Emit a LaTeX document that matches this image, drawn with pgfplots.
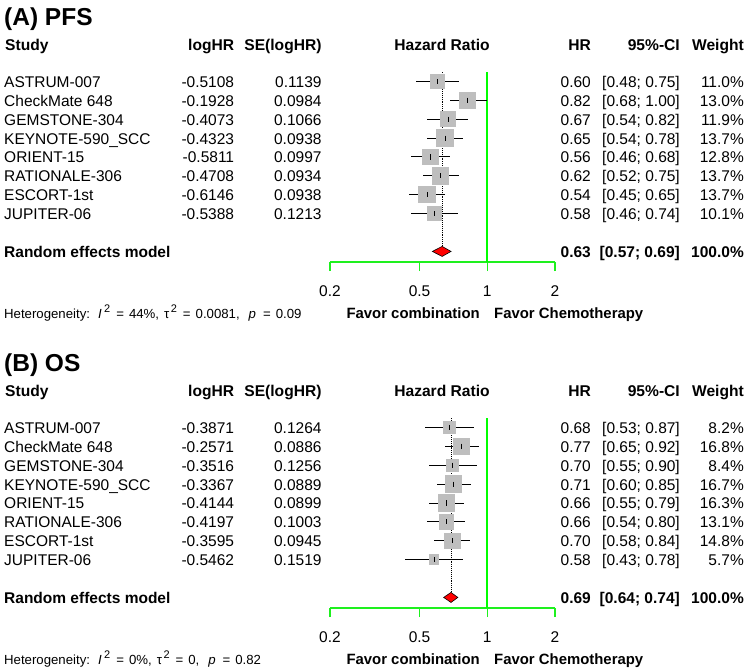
\documentclass[border=0pt]{standalone}
\usepackage{pgfplots}
\pgfplotsset{compat=1.18}
\usepackage{pgfplotstable}
\usepackage{fontspec}
\setmainfont{Liberation Sans}

\definecolor{sqgray}{RGB}{190,190,190}
\definecolor{lgreen}{RGB}{30,240,30}
\definecolor{vgreen}{RGB}{0,255,0}

\newcommand\fbody{\fontsize{15.5}{18}\selectfont}
\newcommand\fhead{\fontsize{15.6}{18}\selectfont\bfseries}
\newcommand\ffav{\fontsize{14.9}{17}\selectfont\bfseries}
\newcommand\fhet{\fontsize{13.2}{16}\selectfont}
\newcommand\ftitle{\fontsize{24.5}{28}\selectfont\bfseries}

% Progression-free survival
\pgfplotstableread[col sep=comma]{
study,loghr,se,hr,lo,hi,w
ASTRUM-007,-0.5108,0.1139,0.60,0.48,0.75,11.0
CheckMate 648,-0.1928,0.0984,0.82,0.68,1.00,13.0
GEMSTONE-304,-0.4073,0.1066,0.67,0.54,0.82,11.9
KEYNOTE-590\_SCC,-0.4323,0.0938,0.65,0.54,0.78,13.7
ORIENT-15,-0.5811,0.0997,0.56,0.46,0.68,12.8
RATIONALE-306,-0.4708,0.0934,0.62,0.52,0.75,13.7
ESCORT-1st,-0.6146,0.0938,0.54,0.45,0.65,13.7
JUPITER-06,-0.5388,0.1213,0.58,0.46,0.74,10.1
}\pfs

% Overall survival
\pgfplotstableread[col sep=comma]{
study,loghr,se,hr,lo,hi,w
ASTRUM-007,-0.3871,0.1264,0.68,0.53,0.87,8.2
CheckMate 648,-0.2571,0.0886,0.77,0.65,0.92,16.8
GEMSTONE-304,-0.3516,0.1256,0.70,0.55,0.90,8.4
KEYNOTE-590\_SCC,-0.3367,0.0889,0.71,0.60,0.85,16.7
ORIENT-15,-0.4144,0.0899,0.66,0.55,0.79,16.3
RATIONALE-306,-0.4197,0.1003,0.66,0.54,0.80,13.1
ESCORT-1st,-0.3595,0.0945,0.70,0.58,0.84,14.8
JUPITER-06,-0.5462,0.1519,0.58,0.43,0.78,5.7
}\os

% #1 table, #2 vertical offset, #3 panel title, #4 pooled HR, #5 lower, #6 upper,
% #7 largest weight, #8 heterogeneity line
\newcommand\forestpanel[8]{%
  \node[anchor=base west, font=\ftitle, inner sep=0pt] at (4,{-(25+#2)}) {#3};
  % column headers
  \begin{scope}[every node/.style={font=\fhead, inner sep=0pt}]
    \node[anchor=base west] at (5,{-(50+#2)}) {Study};
    \node[anchor=base east] at (234.3,{-(50+#2)}) {logHR};
    \node[anchor=base east] at (321.7,{-(50+#2)}) {SE(logHR)};
    \node[anchor=base] at (442,{-(50+#2)}) {Hazard Ratio};
    \node[anchor=base east] at (591,{-(50+#2)}) {HR};
    \node[anchor=base east] at (680,{-(50+#2)}) {95\%-CI};
    \node[anchor=base east] at (744,{-(50+#2)}) {Weight};
  \end{scope}
  % study rows
  \begin{scope}[every node/.style={font=\fbody, inner sep=0pt}]
    \foreach \i in {0,...,7}{
      \pgfmathsetmacro\yb{-(87.3+18.9*\i+#2)}
      \pgfplotstablegetelem{\i}{study}\of#1
      \node[anchor=base west] at (4,\yb) {\pgfplotsretval};
      \pgfplotstablegetelem{\i}{loghr}\of#1
      \node[anchor=base east] at (234.3,\yb) {\pgfplotsretval};
      \pgfplotstablegetelem{\i}{se}\of#1
      \node[anchor=base east] at (321.7,\yb) {\pgfplotsretval};
      \pgfplotstablegetelem{\i}{hr}\of#1
      \node[anchor=base east] at (591,\yb) {\pgfplotsretval};
      \pgfplotstablegetelem{\i}{lo}\of#1
      \let\cilo\pgfplotsretval
      \pgfplotstablegetelem{\i}{hi}\of#1
      \node[anchor=base east] at (680,\yb) {[\cilo; \pgfplotsretval]};
      \pgfplotstablegetelem{\i}{w}\of#1
      \node[anchor=base east] at (744,\yb) {\pgfplotsretval\%};
    }
  \end{scope}
  % pooled row
  \begin{scope}[every node/.style={font=\fbody\bfseries, inner sep=0pt}]
    \node[anchor=base west] at (4,{-(257.4+#2)}) {Random effects model};
    \node[anchor=base east] at (591,{-(257.4+#2)}) {#4};
    \node[anchor=base east] at (680,{-(257.4+#2)}) {[#5; #6]};
    \node[anchor=base east] at (744,{-(257.4+#2)}) {100.0\%};
  \end{scope}
  \node[anchor=base west, font=\fhet, inner sep=0pt] at (4,{-(318+#2)}) {#8};
  \node[anchor=base east, font=\ffav, inner sep=0pt] at (480,{-(318.5+#2)}) {Favor combination};
  \node[anchor=base west, font=\ffav, inner sep=0pt] at (494,{-(318.5+#2)}) {Favor Chemotherapy};
  % forest plot
  \begin{axis}[
    at={(330pt,{-72pt-#2pt})}, anchor=north west,
    scale only axis, width=225pt, height=190pt,
    xmode=log, xmin=0.2, xmax=2, ymin=-10.56, ymax=-0.5,
    axis y line=none, axis x line*=bottom,
    x axis line style={draw=lgreen, line width=1.3pt, -},
    xtick={0.2,0.5,1,2}, xticklabels={0.2,0.5,1,2}, minor xtick={},
    xtick style={draw=lgreen, line width=1.3pt},
    tick align=outside, major tick length=9pt,
    xticklabel style={font=\fbody, text=black, anchor=base, inner sep=0pt, yshift=-25pt},
    clip=false,
  ]
    % line of no effect
    \addplot[color=vgreen, line width=2pt, mark=none] coordinates {(1,-0.5) (1,-10.56)};
    \addplot[draw=black, densely dotted, line width=0.9pt, mark=none] coordinates {(#4,-0.5) (#4,-10)};
    \addplot[scatter, only marks, mark=square*,
      scatter/use mapped color={draw=sqgray, fill=sqgray},
      mark options={draw=sqgray, fill=sqgray, line width=0pt},
      visualization depends on={8.2*sqrt(\thisrow{w}/#7) \as \msize},
      scatter/@pre marker code/.append style={/tikz/mark size=\msize pt}]
      table[x=hr, y expr=-\coordindex-1]{#1};
    \addplot[black, only marks, mark=|, mark size=2.6pt, mark options={line width=1pt},
      error bars/.cd, x dir=both, x explicit, error mark=none,
      error bar style={line width=1pt, black}]
      table[x=hr, y expr=-\coordindex-1,
        x error plus expr=\thisrow{hi}-\thisrow{hr},
        x error minus expr=\thisrow{hr}-\thisrow{lo}]{#1};
    \addplot[fill=red, draw=black, line width=0.6pt, mark=none]
      coordinates {(#5,-10) (#4,-9.735) (#6,-10) (#4,-10.265)} -- cycle;
  \end{axis}
}

\newcommand\sqr{\raisebox{0.42em}{\fontsize{11}{12}\selectfont 2}}
\newcommand\hetline[3]{Heterogeneity:\hspace{8pt}\textit{I}\hspace{2.5pt}\sqr\hspace{6pt}=\hspace{5pt}#1,\hspace{5pt}τ\hspace{1.5pt}\sqr\hspace{6pt}=\hspace{5pt}#2,\hspace{9pt}\textit{p}\hspace{7pt}=\hspace{5pt}#3}

\begin{document}
\begin{tikzpicture}[x=1pt, y=1pt]
  \path[use as bounding box] (0,0) rectangle (749,-670);
  \forestpanel{\pfs}{0}{(A) PFS}{0.63}{0.57}{0.69}{13.7}{\hetline{44\%}{0.0081}{0.09}}
  \forestpanel{\os}{346}{(B) OS}{0.69}{0.64}{0.74}{16.8}{\hetline{0\%}{0}{0.82}}
\end{tikzpicture}
\end{document}
